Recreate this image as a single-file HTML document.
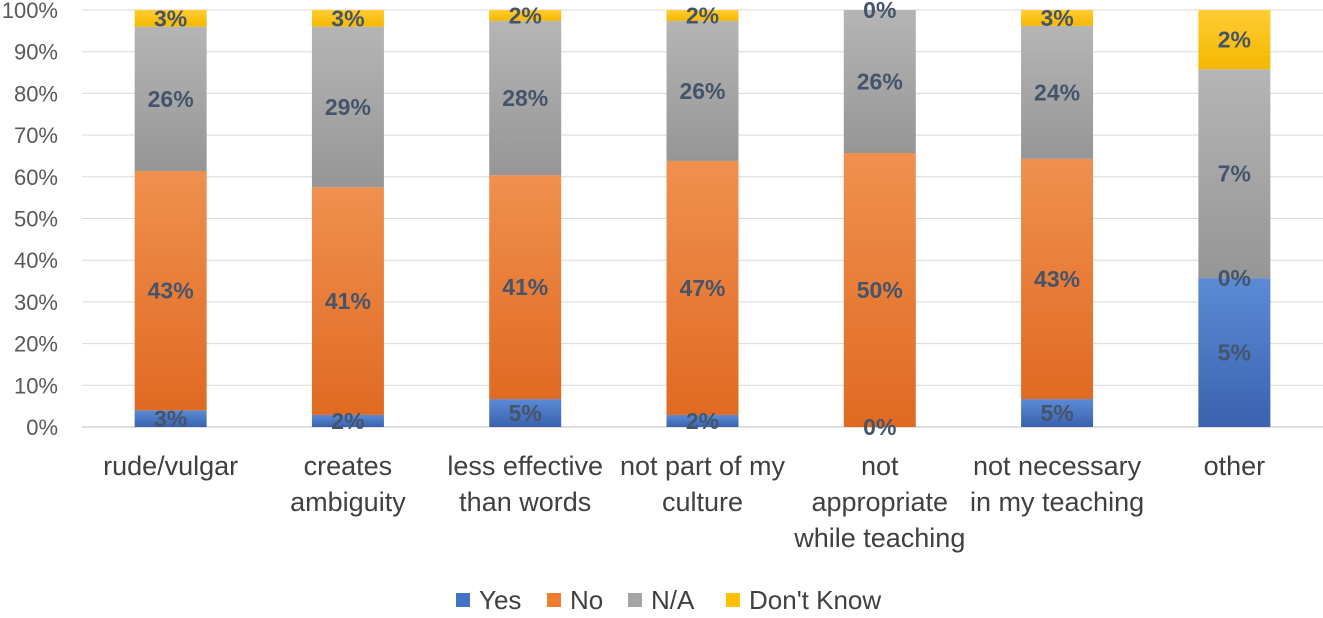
<!DOCTYPE html>
<html><head><meta charset="utf-8"><style>
body{margin:0;background:#fff;}
svg text{font-family:"Liberation Sans",sans-serif;}
</style></head><body>
<svg id="chart" width="1323" height="613" xmlns="http://www.w3.org/2000/svg">
<defs>
<linearGradient id="gYes" x1="0" y1="0" x2="0" y2="1"><stop offset="0" stop-color="#5B8BD6"/><stop offset="1" stop-color="#3A62AE"/></linearGradient>
<linearGradient id="gNo" x1="0" y1="0" x2="0" y2="1"><stop offset="0" stop-color="#F0904F"/><stop offset="1" stop-color="#E06A22"/></linearGradient>
<linearGradient id="gNA" x1="0" y1="0" x2="0" y2="1"><stop offset="0" stop-color="#B5B5B5"/><stop offset="1" stop-color="#969696"/></linearGradient>
<linearGradient id="gDK" x1="0" y1="0" x2="0" y2="1"><stop offset="0" stop-color="#FFCC33"/><stop offset="1" stop-color="#F5B800"/></linearGradient>
</defs>
<g id="grid"></g>
<g id="yaxis"></g>
<g id="bars"></g>
<g id="xaxis"></g>
<g id="legend"></g>
</svg>
<script>
const categories=[["rude/vulgar"],["creates","ambiguity"],["less effective","than words"],["not part of my","culture"],["not","appropriate","while teaching"],["not necessary","in my teaching"],["other"]];
const yesVals=[4,2.9,6.7,2.9,0,6.7,35.7];
const noVals=[57.4,54.6,53.7,60.9,65.7,57.6,0];
const naVals=[34.6,38.5,37,33.6,34.3,31.9,50.1];
const dkVals=[4,4,2.6,2.6,0,3.8,14.2];
const yesLabels=["3%","2%","5%","2%","0%","5%","5%"];
const noLabels=["43%","41%","41%","47%","50%","43%","0%"];
const naLabels=["26%","29%","28%","26%","26%","24%","7%"];
const dkLabels=["3%","3%","2%","2%","0%","3%","2%"];
const yTicks=[0,10,20,30,40,50,60,70,80,90,100];
const NS="http://www.w3.org/2000/svg";
const x0=82,x1=1323,yBot=427,yTop=10;
const band=(x1-x0)/categories.length, bw=72;
const yS=v=>yBot-(yBot-yTop)*v/100;
const xC=i=>x0+band*(i+0.5);
function mk(tag,parent,attrs){const e=document.createElementNS(NS,tag);for(const k in attrs)e.setAttribute(k,attrs[k]);parent.appendChild(e);return e;}
const grid=document.getElementById('grid'),ya=document.getElementById('yaxis'),bars=document.getElementById('bars'),xa=document.getElementById('xaxis'),lg=document.getElementById('legend');
yTicks.forEach(t=>{
 const l=mk('line',grid,{x1:x0,x2:x1,y1:yS(t),y2:yS(t),stroke:t===0?'#BFBFBF':'#D9D9D9','stroke-width':1});
 
 
 const tx=mk('text',ya,{x:58,y:yS(t)+8,'text-anchor':'end','font-size':22,fill:'#595959'});
 tx.textContent=t+'%';
 
 
});
const series=[["yes",yesVals,yesLabels,"url(#gYes)"],["no",noVals,noLabels,"url(#gNo)"],["na",naVals,naLabels,"url(#gNA)"],["dk",dkVals,dkLabels,"url(#gDK)"]];
categories.forEach((c,i)=>{
 let cum=0;
 const segs=[];
 series.forEach(s=>{
  const v=s[1][i];const yt=yS(cum+v),yb=yS(cum);
  const r=mk('rect',bars,{x:xC(i)-bw/2,y:yt,width:bw,height:Math.max(0,yb-yt),fill:s[3]});
  
  
  segs.push([s,(yt+yb)/2]);
  cum+=v;
 });
 segs.forEach(([s,ym])=>{
  const t=mk('text',bars,{x:xC(i),y:ym+8,'text-anchor':'middle','font-size':23,'font-weight':'bold',fill:'#44546A'});
  t.textContent=s[2][i];
  
  
 });
 c.forEach((line,j)=>{
  const t=mk('text',xa,{x:xC(i),y:475+36*j,'text-anchor':'middle','font-size':27,fill:'#404040'});
  t.textContent=line;
  
  
 });
});
const leg=[["Yes","#4472C4",456],["No","#ED7D31",547],["N/A","#A5A5A5",628],["Don't Know","#FFC000",726]];
leg.forEach(l=>{
 const r=mk('rect',lg,{x:l[2],y:593,width:14,height:14,fill:l[1]});
 
 
 const t=mk('text',lg,{x:l[2]+23,y:609,'font-size':26,fill:'#404040'});
 t.textContent=l[0];
 
 
});
</script>
</body></html>
